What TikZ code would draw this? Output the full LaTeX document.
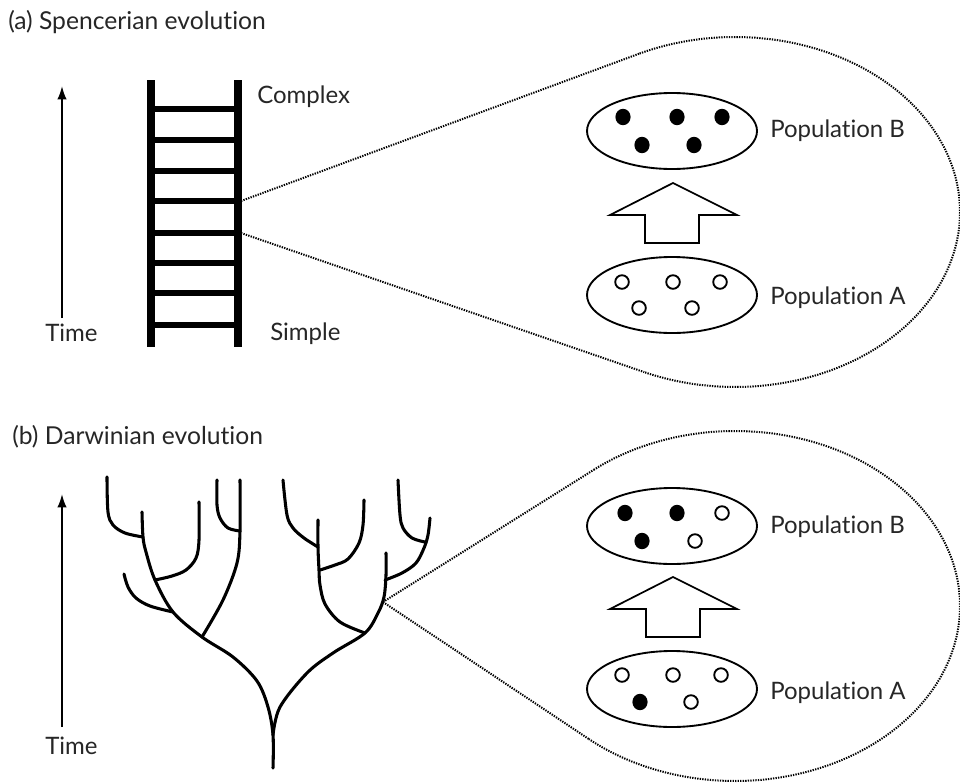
\documentclass[tikz,border=0pt]{standalone}
\usepackage{fontspec}
\setmainfont{Lato}[Ligatures={NoCommon}]
\usetikzlibrary{arrows.meta,shapes.geometric}
\begin{document}
\begin{tikzpicture}[x=0.75pt,y=-0.75pt,
  lbl/.style={font=\fontsize{18}{21}\selectfont, inner sep=0pt, text=black!85},
  ttl/.style={font=\fontsize{18.5}{22}\selectfont, inner sep=0pt, text=black!85},
  popell/.style={draw, ellipse, line width=1.4pt, minimum width=127.5pt, minimum height=57pt, inner sep=0pt},
  rail/.style={line width=5.4pt},
  rung/.style={line width=4pt},
  zoomline/.style={line width=1.5pt, dash pattern=on 1pt off 0.9pt, black},
  branch/.style={line width=2.3pt, line cap=round, line join=round},
  timearrow/.style={line width=1.4pt, -{Latex[length=10pt,width=7pt]}},
  blockarrow/.style={draw, line width=1.3pt, fill=white, line join=miter},
  fdot/.style={fill=black},
  odot/.style={draw, line width=1.4pt}]
\useasboundingbox (0,0) rectangle (960,782);

% ---------- (a) ----------
\node[ttl, anchor=west] (titleA) at (8,22) {(a) Spencerian evolution};

% time arrow
\node[lbl, anchor=west] (timeA) at (45,333) {Time};
\coordinate (tA0) at (62,318);
\coordinate (tA1) at (62,86);
\draw[timearrow] (tA0) -- (tA1);

% ladder
\draw[rail] (151,80) -- (151,347);
\draw[rail] (238,80) -- (238,347);
\foreach \y in {109,140,171,201,233,263,293,325}
  \draw[rung] (151,\y) -- (238,\y);
\node[lbl, anchor=west] (complex) at (257,97) {Complex};
\node[lbl, anchor=west] (simple) at (270,334) {Simple};

% zoom
\coordinate (zpA1) at (241,201);
\coordinate (zpA2) at (241,233);
\coordinate (zaT) at ({735+225*cos(244.9)},{212+175*sin(244.9)});
\coordinate (zaB) at ({735+225*cos(473.8)},{212+175*sin(473.8)});
\draw[zoomline] (zpA1) -- (zaT);
\draw[zoomline] (zpA2) -- (zaB);
\draw[zoomline] plot[domain=244.9:473.8, samples=160] ({735+225*cos(\x)},{212+175*sin(\x)});

% populations
\node[popell] (popAB) at (672,131) {};
\node[popell] (popAA) at (672,295) {};
\node[lbl, anchor=west] (labAB) at (770,131) {Population B};
\node[lbl, anchor=west] (labAA) at (770,298) {Population A};
\foreach \x/\y in {623/117,677/117,722/117,642/145,694/145}
  \fill[fdot] (\x,\y) ellipse [x radius=7.6, y radius=8.2];
\foreach \x/\y in {622/282,673/282,720/282,639/308,692/308}
  \draw[odot] (\x,\y) circle [radius=6.8];
\draw[blockarrow] (673,183) -- (737,215) -- (699,215) -- (699,243) -- (645,243) -- (645,215) -- (610,215) -- cycle;

% ---------- (b) ----------
\node[ttl, anchor=west] (titleB) at (12,437) {(b) Darwinian evolution};

\node[lbl, anchor=west] (timeB) at (45,746) {Time};
\coordinate (tB0) at (62,727);
\coordinate (tB1) at (62,494);
\draw[timearrow] (tB0) -- (tB1);

% tree
\draw[branch] plot[smooth, tension=0.55] coordinates {(273,768) (273,735) (268,707) (257,681) (233,657) (202,637) (173,612) (155,580) (146,552) (143,537) (142,512)};
\draw[branch] plot[smooth, tension=0.55] coordinates {(273,735) (280,707) (307,673) (333,653) (365,633) (378,613) (384,597) (386,575) (386,553)};
\draw[branch] plot[smooth, tension=0.55] coordinates {(202,637) (223,600) (237,563) (240,531) (240,480)};
\draw[branch] plot[smooth, tension=0.55] coordinates {(240,531) (228,528) (220,518) (217,505) (217,480)};
\draw[branch] plot[smooth, tension=0.55] coordinates {(173,612) (150,606) (136,598) (128,587) (124,574)};
\draw[branch] plot[smooth, tension=0.55] coordinates {(155,580) (172,576) (186,570) (196,558) (199,540) (199,502)};
\draw[branch] plot[smooth, tension=0.55] coordinates {(143,537) (125,533) (113,525) (108,512) (107,477)};
\draw[branch] plot[smooth, tension=0.55] coordinates {(365,633) (340,622) (325,604) (320,585) (319,570) (318,547) (318,520)};
\draw[branch] plot[smooth, tension=0.55] coordinates {(320,570) (335,565) (348,559) (359,543) (363,525) (364,500)};
\draw[branch] plot[smooth, tension=0.55] coordinates {(318,547) (304,538) (293,528) (287,515) (283,480)};
\draw[branch] plot[smooth, tension=0.55] coordinates {(385,580) (402,573) (416,563) (424,548) (428,535) (430,518)};
\draw[branch] plot[smooth, tension=0.55] coordinates {(425,542) (412,538) (403,528) (400,515) (398,480)};

% zoom
\coordinate (zpB) at (383,602);
\coordinate (zbT) at ({735+225*cos(231.1)},{606+175*sin(231.1)});
\coordinate (zbB) at ({735+225*cos(490.5)},{606+175*sin(490.5)});
\draw[zoomline] (zpB) -- (zbT);
\draw[zoomline] (zpB) -- (zbB);
\draw[zoomline] plot[domain=231.1:490.5, samples=160] ({735+225*cos(\x)},{606+175*sin(\x)});

% populations
\node[popell] (popBB) at (672,526) {};
\node[popell] (popBA) at (672,689) {};
\node[lbl, anchor=west] (labBB) at (770,527) {Population B};
\node[lbl, anchor=west] (labBA) at (770,693) {Population A};
\foreach \x/\y in {625/513,677/513,642/541}
  \fill[fdot] (\x,\y) ellipse [x radius=7.6, y radius=8.2];
\foreach \x/\y in {722/513,695/541}
  \draw[odot] (\x,\y) circle [radius=6.8];
\foreach \x/\y in {640/702}
  \fill[fdot] (\x,\y) ellipse [x radius=7.6, y radius=8.2];
\foreach \x/\y in {622/675,673/675,721/675,691/702}
  \draw[odot] (\x,\y) circle [radius=6.8];
\draw[blockarrow] (673,577) -- (737,609) -- (700,609) -- (700,637) -- (646,637) -- (646,609) -- (610,609) -- cycle;
\end{tikzpicture}
\end{document}
